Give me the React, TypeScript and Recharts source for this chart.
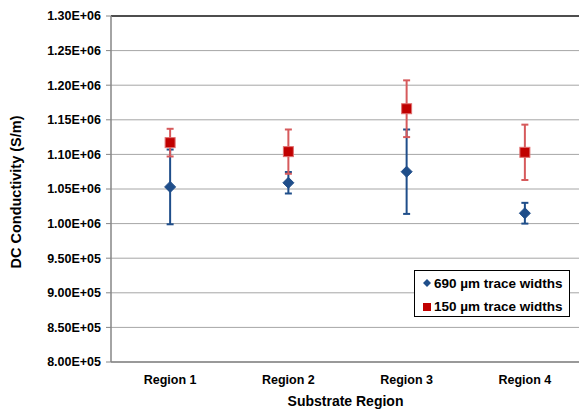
import React from 'react';
import {
  ComposedChart,
  Line,
  XAxis,
  YAxis,
  CartesianGrid,
  ErrorBar,
  Legend,
  Label,
  ReferenceLine,
} from 'recharts';

const categories = ['Region 1', 'Region 2', 'Region 3', 'Region 4'];
const seriesNames = ['690 µm trace widths', '150 µm trace widths'];
const values690 = [1053000, 1059000, 1075000, 1015000];
const errors690 = [54000, 15500, 61000, 15000];
const values150 = [1117000, 1104000, 1166000, 1103000];
const errors150 = [20000, 32000, 41000, 40000];
const yTicks = [800000, 850000, 900000, 950000, 1000000, 1050000, 1100000, 1150000, 1200000, 1250000, 1300000];
const boundaryTicks = [0, 1, 2, 3, 4];
const categoryTicks = categories.map((_, i) => i + 0.5);
const yTitle = 'DC Conductivity (S/m)';
const xTitle = 'Substrate Region';

const data = categories.map((name, i) => ({
  x: i + 0.5,
  name,
  s690: values690[i],
  e690: errors690[i],
  s150: values150[i],
  e150: errors150[i],
}));

const FONT = '"Liberation Sans", Arial, sans-serif';
const BLUE = '#1F4E8A';
const RED = '#C00000';
const RED_ERR = '#D65A5C';
const AXIS = '#868686';

const fmtExp = (v: number) => {
  const [m, e] = v.toExponential(2).split('e');
  const sign = e[0] === '-' ? '-' : '+';
  const digits = e.replace(/[+-]/, '').padStart(2, '0');
  return `${m}E${sign}${digits}`;
};

const Diamond = (props: any) => {
  const { cx, cy } = props;
  if (cx == null || cy == null) return <g key={props.key} />;
  const r = 5.5;
  return (
    <path
      key={props.key}
      d={`M${cx},${cy - r} L${cx + r},${cy} L${cx},${cy + r} L${cx - r},${cy} Z`}
      fill={BLUE}
      stroke={BLUE}
      strokeWidth={1}
    />
  );
};

const Square = (props: any) => {
  const { cx, cy } = props;
  if (cx == null || cy == null) return <g key={props.key} />;
  const s = 10;
  return (
    <rect
      key={props.key}
      x={cx - s / 2}
      y={cy - s / 2}
      width={s}
      height={s}
      fill={RED}
      stroke="#E07070"
      strokeWidth={1}
    />
  );
};

const LegendBox = () => (
  <div
    style={{
      width: 156,
      height: 47,
      boxSizing: 'border-box',
      border: '1px solid #000',
      background: '#fff',
      fontFamily: FONT,
      fontWeight: 'bold',
      fontSize: 13.5,
      color: '#000',
      position: 'relative',
    }}
  >
    {seriesNames.map((n, i) => (
      <div
        key={n}
        style={{
          position: 'absolute',
          left: 6,
          top: i === 0 ? 3 : 26.5,
          height: 18,
          display: 'flex',
          alignItems: 'center',
          whiteSpace: 'nowrap',
        }}
      >
        <svg width={12} height={12} style={{ marginRight: 1 }}>
          {i === 0 ? (
            <path d="M6,2 L10,6 L6,10 L2,6 Z" fill={BLUE} />
          ) : (
            <rect x={2} y={2} width={8} height={8} fill={RED} />
          )}
        </svg>
        <span>{n}</span>
      </div>
    ))}
  </div>
);

export default function App() {
  return (
    <div
      style={{
        position: 'fixed',
        left: 0,
        top: 0,
        width: 579,
        height: 413,
        overflow: 'hidden',
        background: '#fff',
      }}
    >
      <ComposedChart
        width={600}
        height={413}
        data={data}
        margin={{ top: 16, right: 16, bottom: 0, left: 0 }}
      >
        <CartesianGrid horizontal vertical={false} stroke="#A6A6A6" strokeWidth={1} yAxisId="y" xAxisId="main" />
        <XAxis
          xAxisId="ticks"
          type="number"
          domain={[0, 4]}
          ticks={boundaryTicks}
          tick={false}
          axisLine={false}
          tickLine={{ stroke: AXIS, strokeWidth: 1 }}
          tickSize={5}
          height={0}
        />
        <XAxis
          xAxisId="main"
          dataKey="x"
          type="number"
          domain={[0, 4]}
          ticks={categoryTicks}
          tickFormatter={(v: number) => categories[Math.floor(v)]}
          tickLine={false}
          axisLine={{ stroke: AXIS, strokeWidth: 1.5 }}
          tickSize={6}
          tickMargin={7}
          height={51}
          tick={{ fontFamily: FONT, fontSize: 12.5, fontWeight: 'bold', fill: '#000' }}
        >
          <Label
            content={(p: any) => {
              const vb = p.viewBox || {};
              return (
                <text
                  x={vb.x + vb.width / 2 - 2}
                  y={vb.y + 44}
                  textAnchor="middle"
                  fontFamily={FONT}
                  fontSize={14}
                  fontWeight="bold"
                  fill="#000"
                >
                  {xTitle}
                </text>
              );
            }}
          />
        </XAxis>
        <YAxis
          yAxisId="y"
          type="number"
          domain={[800000, 1300000]}
          ticks={yTicks}
          tickFormatter={fmtExp}
          width={111}
          tickSize={5}
          tickMargin={5}
          interval={0}
          axisLine={{ stroke: AXIS, strokeWidth: 1.5 }}
          tickLine={{ stroke: AXIS, strokeWidth: 1 }}
          tick={{ fontFamily: FONT, fontSize: 12.5, fontWeight: 'bold', fill: '#000' }}
        >
          <Label
            content={(p: any) => {
              const vb = p.viewBox || {};
              const cx = 16;
              const cy = vb.y + vb.height / 2 + 3;
              return (
                <text
                  x={cx}
                  y={cy}
                  transform={`rotate(-90, ${cx}, ${cy})`}
                  textAnchor="middle"
                  dominantBaseline="central"
                  fontFamily={FONT}
                  fontSize={14.5}
                  fontWeight="bold"
                  fill="#000"
                >
                  {yTitle}
                </text>
              );
            }}
          />
        </YAxis>
        <ReferenceLine y={1300000} yAxisId="y" xAxisId="main" stroke="#222" strokeWidth={1.5} />
        <Line
          xAxisId="main"
          yAxisId="y"
          dataKey="s690"
          name={seriesNames[0]}
          stroke="none"
          strokeWidth={0}
          dot={Diamond}
          activeDot={false}
          isAnimationActive={false}
        >
          <ErrorBar dataKey="e690" width={3.5} stroke={BLUE} strokeWidth={2} direction="y" />
        </Line>
        <Line
          xAxisId="main"
          yAxisId="y"
          dataKey="s150"
          name={seriesNames[1]}
          stroke="none"
          strokeWidth={0}
          dot={Square}
          activeDot={false}
          isAnimationActive={false}
        >
          <ErrorBar dataKey="e150" width={3.5} stroke={RED_ERR} strokeWidth={2} direction="y" />
        </Line>
        <Legend
          layout="vertical"
          align="center"
          verticalAlign="middle"
          content={() => <LegendBox />}
          wrapperStyle={{ position: 'absolute', left: 414, top: 270, width: 156, height: 47, margin: 0, padding: 0 }}
        />
      </ComposedChart>
    </div>
  );
}
